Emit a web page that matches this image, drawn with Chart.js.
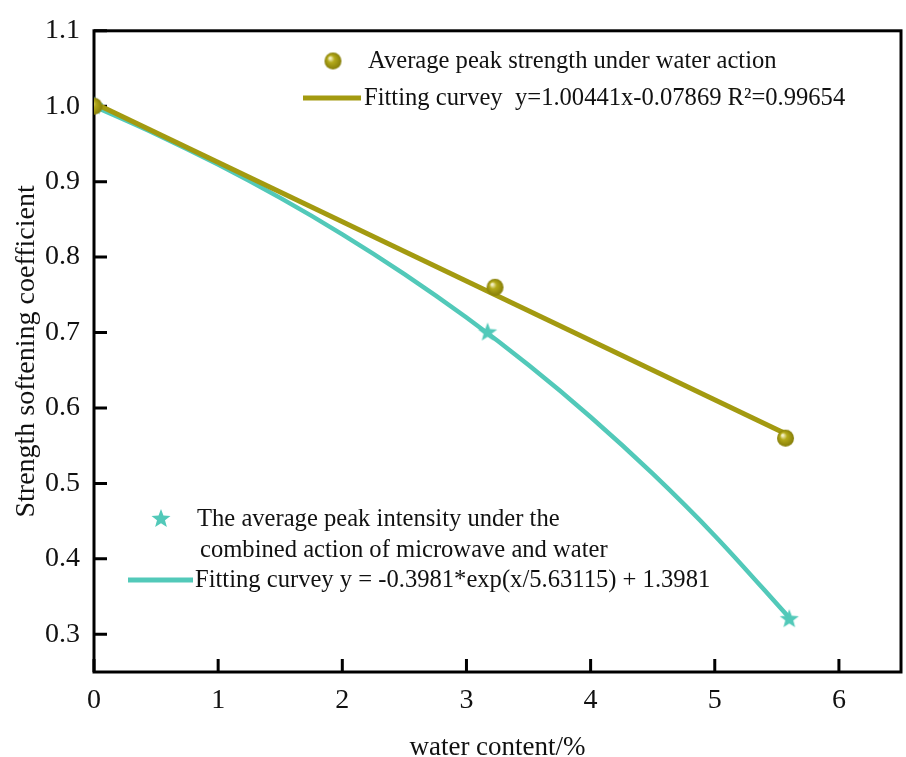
<!DOCTYPE html>
<html lang="en">
<head>
    <meta charset="UTF-8">
    <title>Strength softening coefficient</title>
    <script src="https://cdn.jsdelivr.net/npm/chart.js@4/dist/chart.umd.min.js"></script>
    <style>
        html, body { margin: 0; padding: 0; background: #fff; }
        #box { width: 906px; height: 757px; }
    </style>
</head>
<body>
<div id="box"><canvas id="myChart"></canvas></div>

<script type="text/javascript">
    // measured points
    var waterX = [0, 3.23, 5.57];
    var waterY = [1.0, 0.76, 0.56];
    var microX = [0, 3.17, 5.6];
    var microY = [1.0, 0.70, 0.32];

    // linear fit y = 1.00441 - 0.07869x, end points
    var linFitX = [0, 5.58];
    var linFitY = [1.00441, 0.56532];

    // exponential fit y = -0.3981*exp(x/5.63115) + 1.3981, sampled
    var expFitX = [0, 0.5, 1, 1.5, 2, 2.5, 3, 3.5, 4, 4.5, 5, 5.6];
    var expFitY = [1.0, 0.96304, 0.92265, 0.87850, 0.83023, 0.77751, 0.71988, 0.65691, 0.58809, 0.51286, 0.43069, 0.32190];

    var xTicks = [0, 1, 2, 3, 4, 5, 6];
    var yTicks = [0.3, 0.4, 0.5, 0.6, 0.7, 0.8, 0.9, 1.0, 1.1];

    var olive = "#a39a10";
    var teal = "#52c9b9";
    var serif = "'Liberation Serif', 'Times New Roman', serif";

    function pts(xs, ys) {
        var out = [];
        for (var i = 0; i < xs.length; i++) out.push({x: xs[i], y: ys[i]});
        return out;
    }

    // shaded ball marker
    function makeBall(r) {
        var c = document.createElement("canvas");
        c.width = c.height = r * 2 + 2;
        var g = c.getContext("2d");
        var cx = r + 1, cy = r + 1;
        var grad = g.createRadialGradient(cx - r * 0.35, cy - r * 0.35, r * 0.1, cx, cy, r);
        grad.addColorStop(0, "#f4f1c8");
        grad.addColorStop(0.35, "#b4aa1a");
        grad.addColorStop(1, "#857d08");
        g.fillStyle = grad;
        g.beginPath();
        g.arc(cx, cy, r, 0, Math.PI * 2);
        g.fill();
        return c;
    }

    // filled five point star marker
    function makeStar(r) {
        var c = document.createElement("canvas");
        c.width = c.height = r * 2 + 2;
        var g = c.getContext("2d");
        var cx = r + 1, cy = r + 1;
        g.fillStyle = teal;
        g.beginPath();
        for (var i = 0; i < 10; i++) {
            var rad = (i % 2 === 0) ? r : r * 0.42;
            var a = -Math.PI / 2 + i * Math.PI / 5;
            var px = cx + rad * Math.cos(a), py = cy + rad * Math.sin(a);
            if (i === 0) g.moveTo(px, py); else g.lineTo(px, py);
        }
        g.closePath();
        g.fill();
        return c;
    }

    var ball = makeBall(8.5);
    var star = makeStar(10);

    // frame and inward tick marks
    var framePlugin = {
        id: "frame",
        beforeDatasetsDraw: function (chart) {
            var ctx = chart.ctx, a = chart.chartArea;
            var xs = chart.scales.x, ys = chart.scales.y;
            ctx.save();
            ctx.strokeStyle = "#000";
            ctx.lineWidth = 3;
            ctx.beginPath();
            xTicks.forEach(function (v) {
                var px = xs.getPixelForValue(v);
                ctx.moveTo(px, a.bottom);
                ctx.lineTo(px, a.bottom - 13);
            });
            yTicks.forEach(function (v) {
                var py = ys.getPixelForValue(v);
                ctx.moveTo(a.left, py);
                ctx.lineTo(a.left + 13, py);
            });
            ctx.stroke();
            ctx.strokeRect(a.left, a.top, a.right - a.left, a.bottom - a.top);
            ctx.restore();
        }
    };

    // legend blocks
    var legendPlugin = {
        id: "notes",
        afterDatasetsDraw: function (chart) {
            var ctx = chart.ctx;
            ctx.save();
            ctx.fillStyle = "#111";
            ctx.font = "24.6px " + serif;
            ctx.textBaseline = "middle";
            ctx.textAlign = "left";

            ctx.drawImage(ball, 333 - ball.width / 2, 61 - ball.height / 2);
            ctx.fillText("Average peak strength under water action", 368, 62);
            ctx.strokeStyle = olive;
            ctx.lineWidth = 5;
            ctx.beginPath();
            ctx.moveTo(303, 98);
            ctx.lineTo(361, 98);
            ctx.stroke();
            ctx.fillText("Fitting curvey  y=1.00441x-0.07869 R\u00b2=0.99654", 364, 99);

            ctx.drawImage(star, 161 - star.width / 2, 519 - star.height / 2);
            ctx.fillText("The average peak intensity under the", 197, 520);
            ctx.fillText("combined action of microwave and water", 200, 551);
            ctx.strokeStyle = teal;
            ctx.beginPath();
            ctx.moveTo(128, 580);
            ctx.lineTo(193, 580);
            ctx.stroke();
            ctx.fillText("Fitting curvey y = -0.3981*exp(x/5.63115) + 1.3981", 195, 581);
            ctx.restore();
        }
    };

    var ctx1 = document.getElementById("myChart");

    new Chart(ctx1, {
        "type": "scatter",
        "data": {
            "datasets": [{
                "label": "Average peak strength under water action",
                "data": pts(waterX, waterY),
                "pointStyle": ball,
                "order": 1
            }, {
                "label": "The average peak intensity under the combined action of microwave and water",
                "data": pts(microX, microY),
                "pointStyle": star,
                "order": 1
            }, {
                "label": "Fitting curvey (linear)",
                "data": pts(linFitX, linFitY),
                "showLine": true,
                "borderColor": olive,
                "borderWidth": 5,
                "pointRadius": 0,
                "order": 2
            }, {
                "label": "Fitting curvey (exp)",
                "data": pts(expFitX, expFitY),
                "showLine": true,
                "borderColor": teal,
                "borderWidth": 4.5,
                "pointRadius": 0,
                "cubicInterpolationMode": "monotone",
                "order": 3
            }]
        },
        "options": {
            "responsive": true,
            "maintainAspectRatio": false,
            "animation": false,
            "layout": {"padding": {"left": 0, "top": 20, "right": 3, "bottom": 0}},
            "plugins": {
                "legend": {"display": false},
                "tooltip": {"enabled": false}
            },
            "scales": {
                "x": {
                    "type": "linear",
                    "min": 0,
                    "max": 6.5,
                    "afterFit": function (s) { s.height = 85; },
                    "grid": {"display": false, "drawTicks": false},
                    "border": {"display": false},
                    "ticks": {
                        "stepSize": 1,
                        "includeBounds": false,
                        "padding": 12,
                        "color": "#111",
                        "font": {"family": serif, "size": 28}
                    },
                    "title": {
                        "display": true,
                        "text": "water content/%",
                        "color": "#111",
                        "font": {"family": serif, "size": 27, "lineHeight": 1},
                        "padding": {"top": 0, "bottom": -4}
                    }
                },
                "y": {
                    "min": 0.25,
                    "max": 1.1,
                    "afterFit": function (s) { s.width = 94; },
                    "grid": {"display": false, "drawTicks": false},
                    "border": {"display": false},
                    "ticks": {
                        "stepSize": 0.1,
                        "includeBounds": false,
                        "padding": 14,
                        "color": "#111",
                        "font": {"family": serif, "size": 28},
                        "callback": function (v) { return v.toFixed(1); }
                    },
                    "title": {
                        "display": true,
                        "text": "Strength softening coefficient",
                        "color": "#111",
                        "font": {"family": serif, "size": 28, "lineHeight": 1},
                        "padding": {"top": 13, "bottom": 0}
                    }
                }
            }
        },
        "plugins": [framePlugin, legendPlugin]
    });
</script>
</body>
</html>
